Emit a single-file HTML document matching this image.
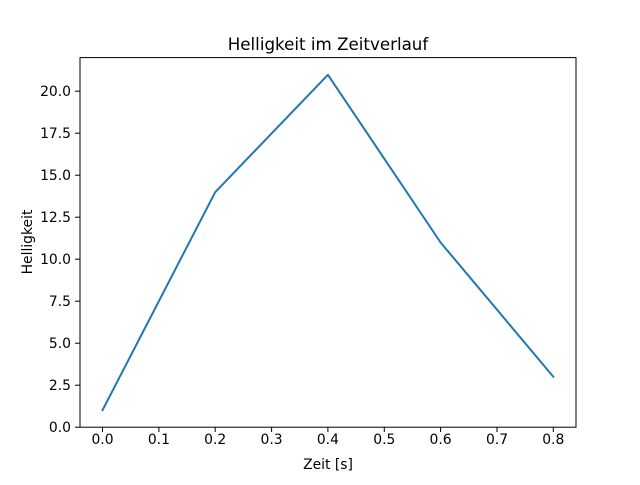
<!DOCTYPE html>
<html><head><meta charset="utf-8"><style>
body{margin:0;background:#fff}
svg text{font-family:"DejaVu Sans","Liberation Sans",sans-serif;fill:#000}
</style></head><body>
<svg width="640" height="480" viewBox="0 0 640 480" xmlns="http://www.w3.org/2000/svg">
<rect width="640" height="480" fill="#fff"/>
<polyline fill="none" stroke="#1f77b4" stroke-width="2" stroke-linejoin="round" stroke-linecap="square"
points="102.5,410.2 215.2,192.2 327.9,74.8 440.6,242.5 553.3,376.7"/>
<rect x="80" y="57.6" width="496" height="369.6" fill="none" stroke="#000" stroke-width="1"/>
<g stroke="#000" stroke-width="1">
<line x1="102.5" y1="427.2" x2="102.5" y2="432"/>
<line x1="158.9" y1="427.2" x2="158.9" y2="432"/>
<line x1="215.2" y1="427.2" x2="215.2" y2="432"/>
<line x1="271.6" y1="427.2" x2="271.6" y2="432"/>
<line x1="327.9" y1="427.2" x2="327.9" y2="432"/>
<line x1="384.3" y1="427.2" x2="384.3" y2="432"/>
<line x1="440.6" y1="427.2" x2="440.6" y2="432"/>
<line x1="497.0" y1="427.2" x2="497.0" y2="432"/>
<line x1="553.3" y1="427.2" x2="553.3" y2="432"/>
<line x1="75" y1="427.2" x2="80" y2="427.2"/>
<line x1="75" y1="385.2" x2="80" y2="385.2"/>
<line x1="75" y1="343.2" x2="80" y2="343.2"/>
<line x1="75" y1="301.2" x2="80" y2="301.2"/>
<line x1="75" y1="259.2" x2="80" y2="259.2"/>
<line x1="75" y1="217.2" x2="80" y2="217.2"/>
<line x1="75" y1="175.2" x2="80" y2="175.2"/>
<line x1="75" y1="133.2" x2="80" y2="133.2"/>
<line x1="75" y1="91.2" x2="80" y2="91.2"/>
</g>
<g font-size="13.9" text-anchor="middle">
<text x="102.5" y="444">0.0</text><text x="158.9" y="444">0.1</text><text x="215.2" y="444">0.2</text>
<text x="271.6" y="444">0.3</text><text x="327.9" y="444">0.4</text><text x="384.3" y="444">0.5</text>
<text x="440.6" y="444">0.6</text><text x="497.0" y="444">0.7</text><text x="553.3" y="444">0.8</text>
</g>
<g font-size="13.9" text-anchor="end">
<text x="71" y="432">0.0</text><text x="71" y="390">2.5</text><text x="71" y="348">5.0</text>
<text x="71" y="306">7.5</text><text x="71" y="264">10.0</text><text x="71" y="222">12.5</text>
<text x="71" y="180">15.0</text><text x="71" y="138">17.5</text><text x="71" y="96">20.0</text>
</g>
<text x="328" y="469" font-size="13.9" text-anchor="middle">Zeit [s]</text>
<text transform="translate(32,242) rotate(-90)" font-size="13.9" text-anchor="middle">Helligkeit</text>
<text x="328" y="50" font-size="16.7" text-anchor="middle">Helligkeit im Zeitverlauf</text>
</svg>
</body></html>
